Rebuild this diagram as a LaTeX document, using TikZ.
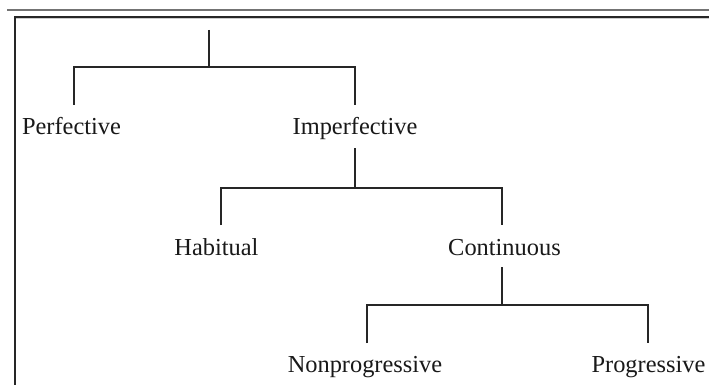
\documentclass[tikz,border=0pt]{standalone}
\usepackage{fontspec}
\setmainfont{Liberation Serif}
\begin{document}
\begin{tikzpicture}[x=1pt,y=-1pt,
  tree/.style={draw=black!85, line width=1.4pt},
  lbl/.style={anchor=base, inner sep=0pt, font=\fontsize{24.4pt}{28pt}\selectfont, text=black!90}]
\useasboundingbox (0,0) rectangle (709,385);
\fill[white] (0,0) rectangle (709,385);
% frame
\coordinate (gl) at (7,10);   \coordinate (gr) at (709,10);
\coordinate (bl) at (14,17);  \coordinate (br) at (709,17);
\coordinate (vb) at (15,385);
\draw[black!55, line width=1.2pt] (gl) -- (gr);
\draw[black!20, line width=1pt] (15,19) -- (709,19);
\draw[black!85, line width=2pt] (br) -- (15,17) -- (vb);
% labels
\node[lbl] (perf) at (71.5,135) {Perfective};
\node[lbl] (imp)  at (355,135) {Imperfective};
\node[lbl] (hab)  at (216.5,255) {Habitual};
\node[lbl] (cont) at (504.5,255) {Continuous};
\node[lbl] (non)  at (365,372) {Nonprogressive};
\node[lbl] (prog) at (648.5,372) {Progressive};
% connector ends
\coordinate (root) at (209,30);  \coordinate (j1) at (209,67);
\coordinate (perfT) at (74,105); \coordinate (impT) at (355,105);
\coordinate (impB) at (355,148); \coordinate (j2) at (355,188);
\coordinate (habT) at (221,225); \coordinate (contT) at (502,225);
\coordinate (contB) at (502,267); \coordinate (j3) at (502,305);
\coordinate (nonT) at (367,343); \coordinate (progT) at (648,343);
% tree
\draw[tree] (root) -- (j1);
\draw[tree] (perfT) -- (perfT |- j1) -- (impT |- j1) -- (impT);
\draw[tree] (impB) -- (j2);
\draw[tree] (habT) -- (habT |- j2) -- (contT |- j2) -- (contT);
\draw[tree] (contB) -- (j3);
\draw[tree] (nonT) -- (nonT |- j3) -- (progT |- j3) -- (progT);
\end{tikzpicture}
\end{document}
